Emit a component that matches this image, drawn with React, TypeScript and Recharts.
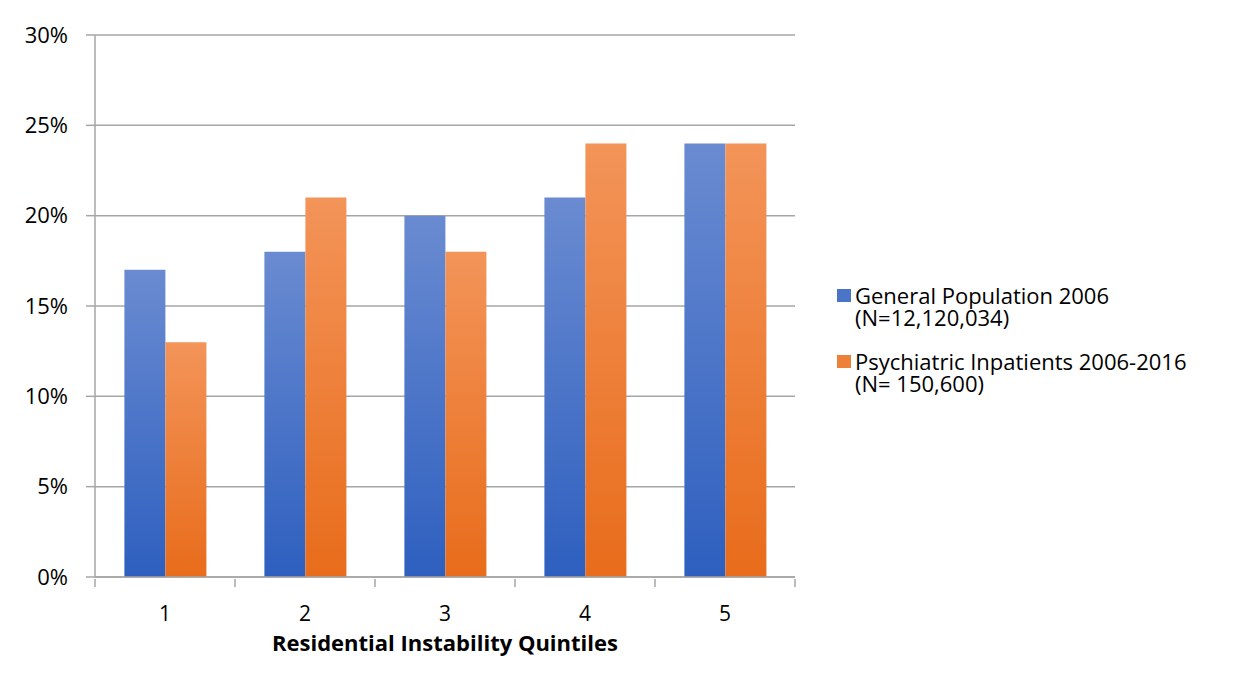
import { BarChart, Bar, XAxis, YAxis, CartesianGrid } from 'recharts'

const quintiles = ['1', '2', '3', '4', '5']
const generalPop = [17, 18, 20, 21, 24]
const inpatients = [13, 21, 18, 24, 24]
const yTicks = [0, 5, 10, 15, 20, 25, 30]

const seriesNames = ['General Population 2006', 'Psychiatric Inpatients 2006-2016']
const seriesSub = ['(N=12,120,034)', '(N= 150,600)']
const seriesColors = ['#4A74C6', '#EE8139']

const data = quintiles.map((q, i) => ({ q, gen: generalPop[i], inp: inpatients[i] }))

const FONT = '"Open Sans", Lato, sans-serif'
const GRID = '#A6A6A6'

// category label at the centre, tick marks on the category boundaries (Excel style)
function XTick(props: any) {
  const { x, y, payload, index, width, visibleTicksCount } = props
  const half = width / visibleTicksCount / 2
  return (
    <g>
      <line x1={x - half} x2={x - half} y1={y} y2={y + 8} stroke={GRID} strokeWidth={1.5} />
      {index === visibleTicksCount - 1 && (
        <line x1={x + half} x2={x + half} y1={y} y2={y + 8} stroke={GRID} strokeWidth={1.5} />
      )}
      <text x={x} y={y + 42} textAnchor="middle" fill="#000" fontSize={21} fontFamily={FONT}>
        {payload.value}
      </text>
    </g>
  )
}

function LegendBox() {
  return (
    <div
      style={{
        position: 'absolute',
        left: 837,
        top: 284,
        fontFamily: FONT,
        fontSize: 22,
        color: '#000',
        lineHeight: '22px',
        whiteSpace: 'nowrap',
      }}
    >
      {seriesNames.map((n, i) => (
        <div key={n} style={{ display: 'flex', marginBottom: 22 }}>
          <svg width={18} height={22} style={{ flex: 'none' }}>
            <rect x={0} y={5} width={14} height={13} fill={seriesColors[i]} />
          </svg>
          <div>
            {n}
            <br />
            {seriesSub[i]}
          </div>
        </div>
      ))}
    </div>
  )
}

export default function App() {
  return (
    <div style={{ position: 'relative', margin: -8, width: 1238, height: 696, overflow: 'hidden', background: '#fff' }}>
      <div style={{ position: 'absolute', left: 0, top: 0 }}>
        <BarChart
          width={1238}
          height={696}
          data={data}
          margin={{ top: 35, right: 443, left: 0, bottom: 0 }}
          barCategoryGap="21%"
          barGap={0}
        >
          <defs>
            <linearGradient id="gBlue" x1="0" y1="0" x2="0" y2="1">
              <stop offset="0%" stopColor="#6A8BD1" />
              <stop offset="100%" stopColor="#2E5FBF" />
            </linearGradient>
            <linearGradient id="gOrange" x1="0" y1="0" x2="0" y2="1">
              <stop offset="0%" stopColor="#F39459" />
              <stop offset="100%" stopColor="#E86C1B" />
            </linearGradient>
          </defs>
          <CartesianGrid vertical={false} stroke={GRID} strokeWidth={1.5} />
          <XAxis
            dataKey="q"
            height={119}
            tickSize={0}
            tickLine={false}
            axisLine={{ stroke: GRID, strokeWidth: 1.5 }}
            tick={<XTick />}
            interval={0}
            label={{
              value: 'Residential Instability Quintiles',
              position: 'insideBottom',
              offset: 45,
              fill: '#000',
              fontSize: 22,
              fontWeight: 700,
              fontFamily: FONT,
            }}
          />
          <YAxis
            width={95}
            domain={[0, 30]}
            ticks={yTicks}
            tickFormatter={(v: number) => `${v}%`}
            tickSize={9}
            tickMargin={18}
            tickLine={{ stroke: GRID, strokeWidth: 1.5 }}
            axisLine={{ stroke: GRID, strokeWidth: 1.5 }}
            tick={{ fill: '#000', fontSize: 22, fontFamily: FONT }}
          />
          <Bar dataKey="gen" name={seriesNames[0]} fill="url(#gBlue)" isAnimationActive={false} />
          <Bar dataKey="inp" name={seriesNames[1]} fill="url(#gOrange)" isAnimationActive={false} />
        </BarChart>
      </div>
      <LegendBox />
    </div>
  )
}
